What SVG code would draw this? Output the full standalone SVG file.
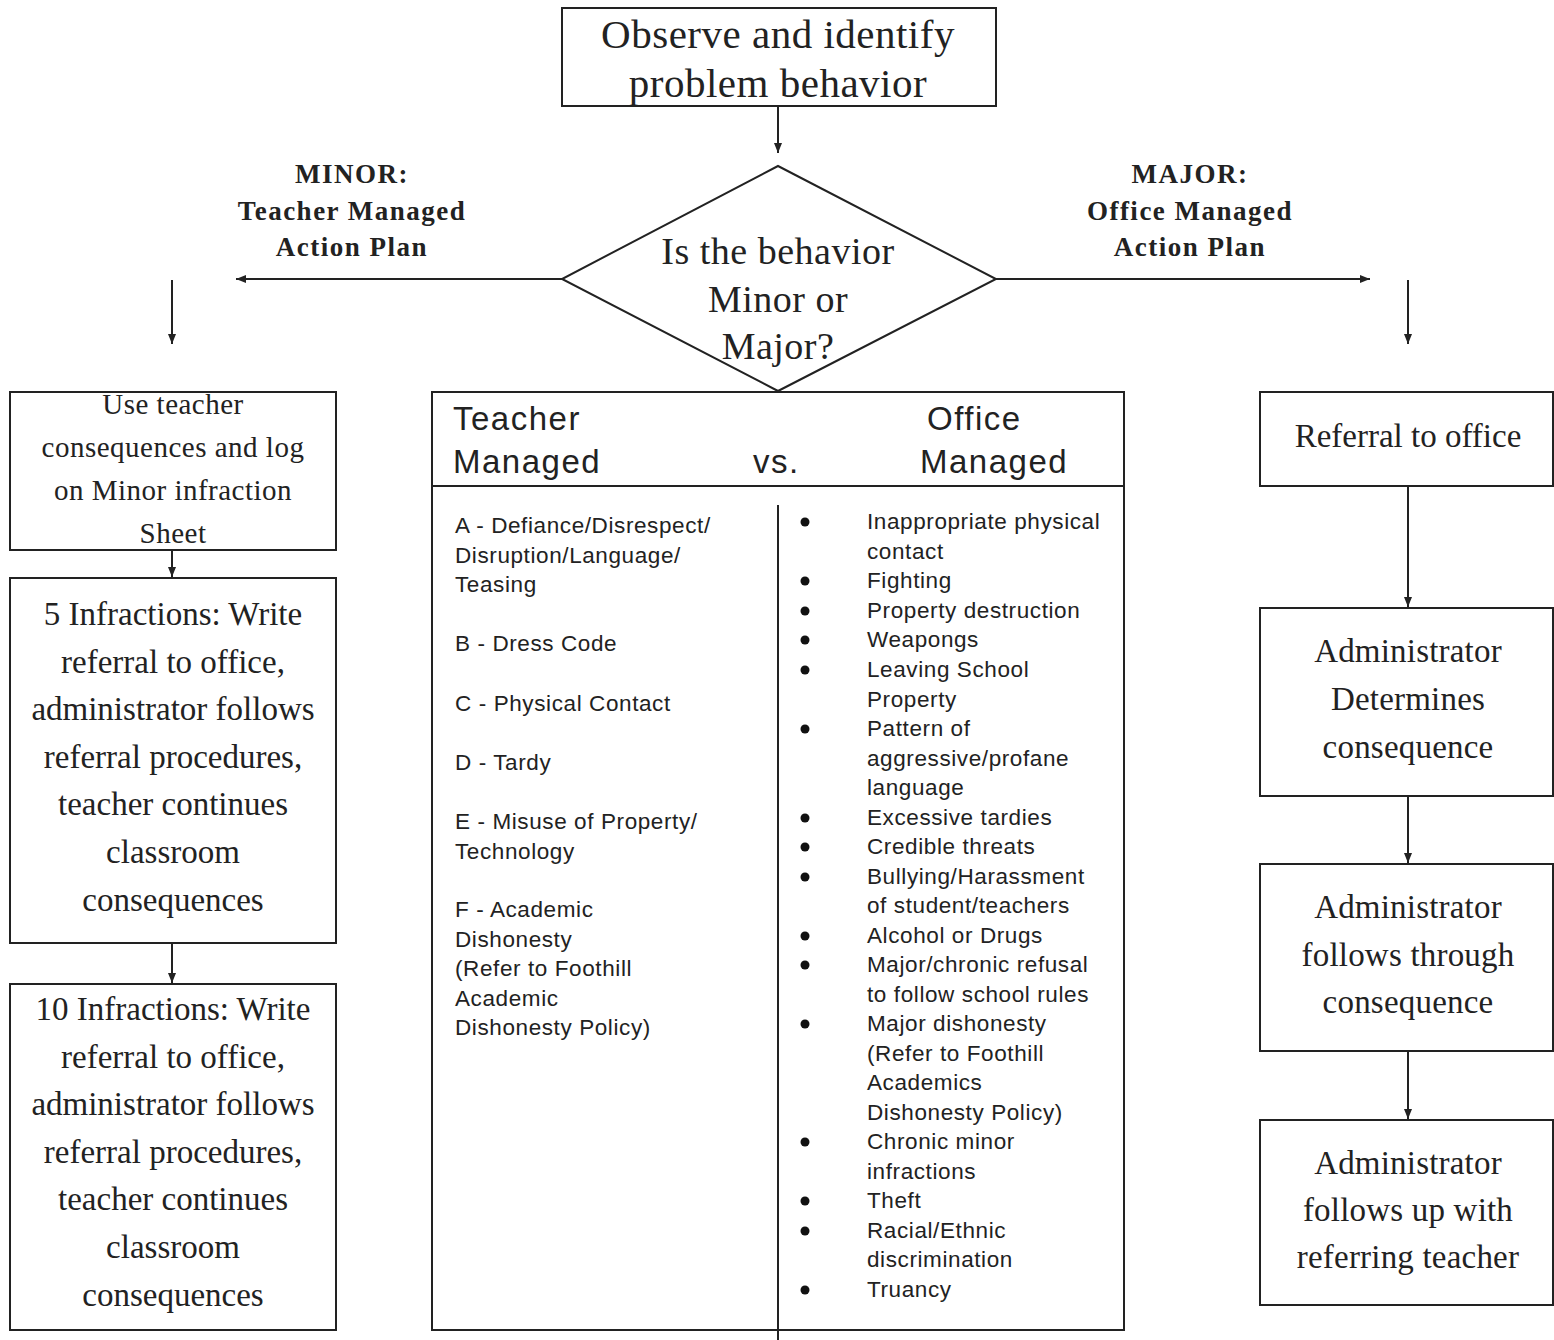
<svg xmlns="http://www.w3.org/2000/svg" width="1554" height="1340" viewBox="0 0 1554 1340">
<style>
.box{fill:#fff;stroke:#222;stroke-width:2}
.ln{stroke:#222;stroke-width:2;fill:none}
.serif{font-family:"Liberation Serif","Times New Roman",serif;fill:#222}
.sans{font-family:"Liberation Sans",Arial,sans-serif;fill:#222}
.c{text-anchor:middle}
.bold{font-weight:bold}
</style>
<defs>
<marker id="ah" viewBox="0 0 10 10" refX="10" refY="5" markerWidth="10" markerHeight="10" markerUnits="userSpaceOnUse" orient="auto">
<path d="M0,1 L10,5 L0,9 Z" fill="#222"/>
</marker>
</defs>
<rect width="1554" height="1340" fill="#fff"/>

<g id="connectors">
<line class="ln" x1="778" y1="106" x2="778" y2="153" marker-end="url(#ah)"/>
<line class="ln" x1="562" y1="279" x2="236" y2="279" marker-end="url(#ah)"/>
<line class="ln" x1="996" y1="279" x2="1370" y2="279" marker-end="url(#ah)"/>
<line class="ln" x1="172" y1="280" x2="172" y2="344" marker-end="url(#ah)"/>
<line class="ln" x1="1408" y1="280" x2="1408" y2="344" marker-end="url(#ah)"/>
<line class="ln" x1="172" y1="550" x2="172" y2="577" marker-end="url(#ah)"/>
<line class="ln" x1="172" y1="943" x2="172" y2="983" marker-end="url(#ah)"/>
<line class="ln" x1="1408" y1="486" x2="1408" y2="607" marker-end="url(#ah)"/>
<line class="ln" x1="1408" y1="796" x2="1408" y2="863" marker-end="url(#ah)"/>
<line class="ln" x1="1408" y1="1051" x2="1408" y2="1119" marker-end="url(#ah)"/>
</g>

<g id="observe">
<rect class="box" x="562" y="8" width="434" height="98"/>
<text class="serif c" font-size="41" letter-spacing="0.5" x="778" y="48">Observe and identify</text>
<text class="serif c" font-size="41" letter-spacing="0.5" x="778" y="97">problem behavior</text>
</g>

<g id="decision">
<polygon class="box" points="778,166 996,279 778,391 562,279"/>
<g class="serif c" font-size="38" letter-spacing="0.5">
<text x="778" y="264">Is the behavior</text>
<text x="778" y="312">Minor or</text>
<text x="778" y="359">Major?</text>
</g>
</g>

<g id="minor-label">
<g class="serif c bold" font-size="27" letter-spacing="1.5">
<text x="352" y="183">MINOR:</text>
<text x="352" y="220">Teacher Managed</text>
<text x="352" y="256">Action Plan</text>
</g>
</g>

<g id="major-label">
<g class="serif c bold" font-size="27" letter-spacing="1.5">
<text x="1190" y="183">MAJOR:</text>
<text x="1190" y="220">Office Managed</text>
<text x="1190" y="256">Action Plan</text>
</g>
</g>

<g id="minor-log">
<rect class="box" x="10" y="392" width="326" height="158"/>
<g class="serif c" font-size="29" letter-spacing="0.5">
<text x="173" y="414">Use teacher</text>
<text x="173" y="457">consequences and log</text>
<text x="173" y="500">on Minor infraction</text>
<text x="173" y="543">Sheet</text>
</g>
</g>

<g id="five-infractions">
<rect class="box" x="10" y="578" width="326" height="365"/>
<g class="serif c" font-size="33">
<text x="173" y="625">5 Infractions: Write</text>
<text x="173" y="673">referral to office,</text>
<text x="173" y="720">administrator follows</text>
<text x="173" y="768">referral procedures,</text>
<text x="173" y="815">teacher continues</text>
<text x="173" y="863">classroom</text>
<text x="173" y="911">consequences</text>
</g>
</g>

<g id="ten-infractions">
<rect class="box" x="10" y="984" width="326" height="346"/>
<g class="serif c" font-size="33">
<text x="173" y="1020">10 Infractions: Write</text>
<text x="173" y="1068">referral to office,</text>
<text x="173" y="1115">administrator follows</text>
<text x="173" y="1163">referral procedures,</text>
<text x="173" y="1210">teacher continues</text>
<text x="173" y="1258">classroom</text>
<text x="173" y="1306">consequences</text>
</g>
</g>

<g id="comparison-table">
<rect class="box" x="432" y="392" width="692" height="938"/>
<line class="ln" x1="432" y1="486" x2="1124" y2="486" stroke-width="3.5"/>
<line class="ln" x1="778" y1="505" x2="778" y2="1340"/>
<g class="sans" font-size="33" letter-spacing="1.5">
<text x="453" y="430">Teacher</text>
<text x="453" y="473">Managed</text>
<text x="753" y="473">vs.</text>
<text x="927" y="430">Office</text>
<text x="920" y="473">Managed</text>
</g>
<g class="sans" font-size="22.5" letter-spacing="0.6">
<text x="455" y="533">A - Defiance/Disrespect/</text>
<text x="455" y="563">Disruption/Language/</text>
<text x="455" y="592">Teasing</text>
<text x="455" y="651">B - Dress Code</text>
<text x="455" y="711">C - Physical Contact</text>
<text x="455" y="770">D - Tardy</text>
<text x="455" y="829">E - Misuse of Property/</text>
<text x="455" y="859">Technology</text>
<text x="455" y="917">F - Academic</text>
<text x="455" y="947">Dishonesty</text>
<text x="455" y="976">(Refer to Foothill</text>
<text x="455" y="1006">Academic</text>
<text x="455" y="1035">Dishonesty Policy)</text>
</g>
<g class="sans" font-size="22.5" letter-spacing="0.6">
<text x="867" y="529">Inappropriate physical</text>
<text x="867" y="559">contact</text>
<text x="867" y="588">Fighting</text>
<text x="867" y="618">Property destruction</text>
<text x="867" y="647">Weapongs</text>
<text x="867" y="677">Leaving School</text>
<text x="867" y="707">Property</text>
<text x="867" y="736">Pattern of</text>
<text x="867" y="766">aggressive/profane</text>
<text x="867" y="795">language</text>
<text x="867" y="825">Excessive tardies</text>
<text x="867" y="854">Credible threats</text>
<text x="867" y="884">Bullying/Harassment</text>
<text x="867" y="913">of student/teachers</text>
<text x="867" y="943">Alcohol or Drugs</text>
<text x="867" y="972">Major/chronic refusal</text>
<text x="867" y="1002">to follow school rules</text>
<text x="867" y="1031">Major dishonesty</text>
<text x="867" y="1061">(Refer to Foothill</text>
<text x="867" y="1090">Academics</text>
<text x="867" y="1120">Dishonesty Policy)</text>
<text x="867" y="1149">Chronic minor</text>
<text x="867" y="1179">infractions</text>
<text x="867" y="1208">Theft</text>
<text x="867" y="1238">Racial/Ethnic</text>
<text x="867" y="1267">discrimination</text>
<text x="867" y="1297">Truancy</text>
</g>
<g fill="#111">
<circle cx="805" cy="522" r="4.5"/>
<circle cx="805" cy="581" r="4.5"/>
<circle cx="805" cy="611" r="4.5"/>
<circle cx="805" cy="640" r="4.5"/>
<circle cx="805" cy="670" r="4.5"/>
<circle cx="805" cy="729" r="4.5"/>
<circle cx="805" cy="818" r="4.5"/>
<circle cx="805" cy="847" r="4.5"/>
<circle cx="805" cy="877" r="4.5"/>
<circle cx="805" cy="936" r="4.5"/>
<circle cx="805" cy="965" r="4.5"/>
<circle cx="805" cy="1024" r="4.5"/>
<circle cx="805" cy="1142" r="4.5"/>
<circle cx="805" cy="1201" r="4.5"/>
<circle cx="805" cy="1231" r="4.5"/>
<circle cx="805" cy="1290" r="4.5"/>
</g>
</g>

<g id="referral">
<rect class="box" x="1260" y="392" width="293" height="94"/>
<text class="serif c" font-size="33" x="1408" y="447">Referral to office</text>
</g>

<g id="admin-determines">
<rect class="box" x="1260" y="608" width="293" height="188"/>
<g class="serif c" font-size="33" letter-spacing="0.2">
<text x="1408" y="662">Administrator</text>
<text x="1408" y="710">Determines</text>
<text x="1408" y="758">consequence</text>
</g>
</g>

<g id="admin-follows-through">
<rect class="box" x="1260" y="864" width="293" height="187"/>
<g class="serif c" font-size="33" letter-spacing="0.2">
<text x="1408" y="918">Administrator</text>
<text x="1408" y="966">follows through</text>
<text x="1408" y="1013">consequence</text>
</g>
</g>

<g id="admin-follows-up">
<rect class="box" x="1260" y="1120" width="293" height="185"/>
<g class="serif c" font-size="33" letter-spacing="0.2">
<text x="1408" y="1174">Administrator</text>
<text x="1408" y="1221">follows up with</text>
<text x="1408" y="1268">referring teacher</text>
</g>
</g>
</svg>
